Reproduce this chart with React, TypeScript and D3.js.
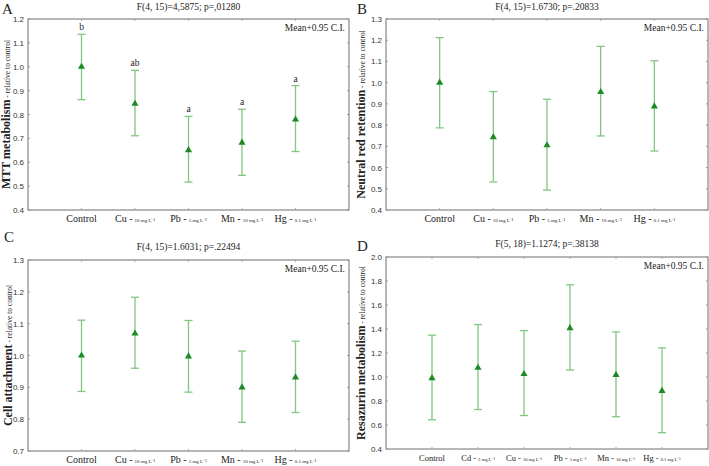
import React from "react";
import * as d3 from "d3";

// Treatment groups
const groupsFive = ["Control", "Cu -", "Pb -", "Mn -", "Hg -"];
const dosesFive = ["", "10 mg L⁻¹", "5 mg L⁻¹", "10 mg L⁻¹", "0.1 mg L⁻¹"];
const groupsSix = ["Control", "Cd -", "Cu -", "Pb -", "Mn -", "Hg -"];
const dosesSix = ["", "2 mg L⁻¹", "10 mg L⁻¹", "5 mg L⁻¹", "10 mg L⁻¹", "0.1 mg L⁻¹"];

// A: MTT metabolism
const mttMean = [1.0, 0.845, 0.651, 0.682, 0.779];
const mttLow = [0.862, 0.711, 0.517, 0.545, 0.645];
const mttHigh = [1.136, 0.985, 0.792, 0.822, 0.921];
const mttLetters = ["b", "ab", "a", "a", "a"];
const mttTicks = [0.4, 0.5, 0.6, 0.7, 0.8, 0.9, 1.0, 1.1, 1.2];

// B: Neutral red retention
const nrMean = [1.0, 0.743, 0.705, 0.956, 0.888];
const nrLow = [0.787, 0.532, 0.494, 0.749, 0.678];
const nrHigh = [1.212, 0.958, 0.922, 1.171, 1.103];
const nrTicks = [0.4, 0.5, 0.6, 0.7, 0.8, 0.9, 1.0, 1.1, 1.2, 1.3];

// C: Cell attachment
const caMean = [1.0, 1.069, 0.997, 0.9, 0.931];
const caLow = [0.887, 0.96, 0.885, 0.79, 0.821];
const caHigh = [1.111, 1.183, 1.11, 1.014, 1.045];
const caTicks = [0.7, 0.8, 0.9, 1.0, 1.1, 1.2, 1.3];

// D: Resazurin metabolism
const rzMean = [0.99, 1.077, 1.025, 1.407, 1.017, 0.884];
const rzLow = [0.644, 0.729, 0.679, 1.058, 0.669, 0.536];
const rzHigh = [1.349, 1.437, 1.387, 1.768, 1.376, 1.243];
const rzTicks = [0.4, 0.6, 0.8, 1.0, 1.2, 1.4, 1.6, 1.8, 2.0];

const serif = "'Liberation Serif', 'Times New Roman', serif";
const sans = "'Liberation Sans', Arial, sans-serif";
const barColor = "#82c682";
const markColor = "#1d8a27";
const frameColor = "#6f6f6f";

type PanelProps = {
  letter: string;
  letterX: number;
  letterY: number;
  title: string;
  titleY: number;
  yLabel: string;
  left: number;
  right: number;
  top: number;
  bottom: number;
  groups: string[];
  doses: string[];
  mean: number[];
  low: number[];
  high: number[];
  ticks: number[];
  decimals: number;
  letters?: string[];
  small?: boolean;
};

function Panel(p: PanelProps) {
  const x = d3.scalePoint<number>().domain(p.groups.map((_, i) => i)).range([p.left, p.right]).padding(1);
  const y = d3
    .scaleLinear()
    .domain([p.ticks[0], p.ticks[p.ticks.length - 1]])
    .range([p.bottom, p.top]);
  const tri = d3.symbol().type(d3.symbolTriangle).size(22)();
  const fmt = d3.format(`.${p.decimals}f`);
  const cx = (p.left + p.right) / 2;
  const cy = (p.top + p.bottom) / 2;
  const mainSize = p.small ? 8.5 : 10;
  const doseSize = p.small ? 4.6 : 5;

  return (
    <g>
      <text x={p.letterX} y={p.letterY} fontFamily={serif} fontSize={15} fill="#222">
        {p.letter}
      </text>
      <text x={cx} y={p.titleY} textAnchor="middle" fontFamily={serif} fontSize={9.5} fill="#222">
        {p.title}
      </text>
      {/* frame */}
      <rect
        x={p.left}
        y={p.top}
        width={p.right - p.left}
        height={p.bottom - p.top}
        fill="none"
        stroke={frameColor}
        strokeWidth={1}
      />
      {/* y ticks */}
      {p.ticks.map((t) => (
        <g key={t}>
          <line x1={p.left} x2={p.left + 2} y1={y(t)} y2={y(t)} stroke="#999" />
          <line x1={p.right} x2={p.right - 2} y1={y(t)} y2={y(t)} stroke="#999" />
          <text
            x={p.left - 4}
            y={y(t) + 3}
            textAnchor="end"
            fontFamily={sans}
            fontSize={8}
            fill="#333"
          >
            {fmt(t)}
          </text>
        </g>
      ))}
      {/* x ticks and labels */}
      {p.groups.map((g, i) => (
        <g key={g}>
          <line x1={x(i)} x2={x(i)} y1={p.top} y2={p.top + 2} stroke="#aaa" />
          <line x1={x(i)} x2={x(i)} y1={p.bottom} y2={p.bottom - 2} stroke="#aaa" />
          <text
            x={x(i)}
            y={p.bottom + 12}
            textAnchor="middle"
            fontFamily={serif}
            fontSize={mainSize}
            fill="#222"
          >
            {g}
            {p.doses[i] ? (
              <tspan fontSize={doseSize} dx={2}>
                {p.doses[i]}
              </tspan>
            ) : null}
          </text>
        </g>
      ))}
      <text
        x={p.right - 4}
        y={p.top + 12}
        textAnchor="end"
        fontFamily={serif}
        fontSize={9.5}
        fill="#222"
      >
        Mean+0.95 C.I.
      </text>
      {/* y axis title */}
      <text
        transform={`translate(${p.letterX + 8},${cy}) rotate(-90)`}
        textAnchor="middle"
        fontFamily={serif}
        fill="#222"
      >
        <tspan fontWeight="bold" fontSize={12}>
          {p.yLabel}
        </tspan>
        <tspan fontSize={7.5}> - relative to control</tspan>
      </text>
      {/* confidence intervals and means */}
      {p.mean.map((m, i) => {
        const xi = x(i) as number;
        return (
          <g key={i}>
            <line x1={xi} x2={xi} y1={y(p.low[i])} y2={y(p.high[i])} stroke={barColor} strokeWidth={1.3} />
            <line x1={xi - 4} x2={xi + 4} y1={y(p.low[i])} y2={y(p.low[i])} stroke={barColor} strokeWidth={1.3} />
            <line x1={xi - 4} x2={xi + 4} y1={y(p.high[i])} y2={y(p.high[i])} stroke={barColor} strokeWidth={1.3} />
            <path d={tri ?? ""} transform={`translate(${xi},${y(m)})`} fill={markColor} />
            {p.letters ? (
              <text
                x={xi}
                y={y(p.high[i]) - 4}
                textAnchor="middle"
                fontFamily={serif}
                fontSize={9.5}
                fill="#222"
              >
                {p.letters[i]}
              </text>
            ) : null}
          </g>
        );
      })}
    </g>
  );
}

export default function App() {
  return (
    <svg
      width={709}
      height={466}
      viewBox="0 0 709 466"
      style={{ position: "absolute", left: 0, top: 0, background: "#fff" }}
    >
      <Panel
        letter="A"
        letterX={2}
        letterY={14}
        title="F(4, 15)=4,5875; p=,01280"
        titleY={10}
        yLabel="MTT metabolism"
        left={28}
        right={349}
        top={19}
        bottom={210}
        groups={groupsFive}
        doses={dosesFive}
        mean={mttMean}
        low={mttLow}
        high={mttHigh}
        ticks={mttTicks}
        decimals={1}
        letters={mttLetters}
      />
      <Panel
        letter="B"
        letterX={357}
        letterY={14}
        title="F(4, 15)=1.6730; p=.20833"
        titleY={10}
        yLabel="Neutral red retention"
        left={386}
        right={708}
        top={19}
        bottom={210}
        groups={groupsFive}
        doses={dosesFive}
        mean={nrMean}
        low={nrLow}
        high={nrHigh}
        ticks={nrTicks}
        decimals={1}
      />
      <Panel
        letter="C"
        letterX={4}
        letterY={242}
        title="F(4, 15)=1.6031; p=.22494"
        titleY={250}
        yLabel="Cell attachment"
        left={28}
        right={349}
        top={260}
        bottom={451}
        groups={groupsFive}
        doses={dosesFive}
        mean={caMean}
        low={caLow}
        high={caHigh}
        ticks={caTicks}
        decimals={1}
      />
      <Panel
        letter="D"
        letterX={357}
        letterY={251}
        title="F(5, 18)=1.1274; p=.38138"
        titleY={247}
        yLabel="Resazurin metabolism"
        left={386}
        right={708}
        top={257}
        bottom={449}
        groups={groupsSix}
        doses={dosesSix}
        mean={rzMean}
        low={rzLow}
        high={rzHigh}
        ticks={rzTicks}
        decimals={1}
        small
      />
    </svg>
  );
}
